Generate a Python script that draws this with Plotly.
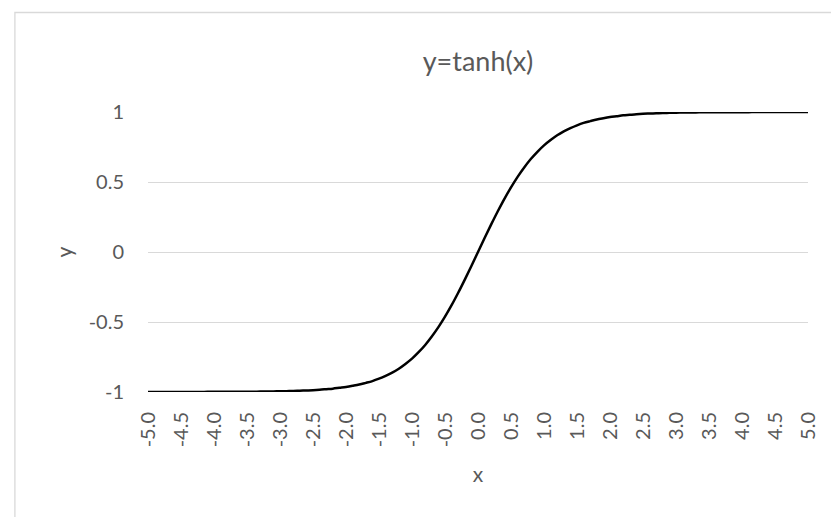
import plotly.graph_objects as go

x_values = [-5.0, -4.9, -4.8, -4.7, -4.6, -4.5, -4.4, -4.3, -4.2, -4.1,
            -4.0, -3.9, -3.8, -3.7, -3.6, -3.5, -3.4, -3.3, -3.2, -3.1,
            -3.0, -2.9, -2.8, -2.7, -2.6, -2.5, -2.4, -2.3, -2.2, -2.1,
            -2.0, -1.9, -1.8, -1.7, -1.6, -1.5, -1.4, -1.3, -1.2, -1.1,
            -1.0, -0.9, -0.8, -0.7, -0.6, -0.5, -0.4, -0.3, -0.2, -0.1,
            0.0, 0.1, 0.2, 0.3, 0.4, 0.5, 0.6, 0.7, 0.8, 0.9,
            1.0, 1.1, 1.2, 1.3, 1.4, 1.5, 1.6, 1.7, 1.8, 1.9,
            2.0, 2.1, 2.2, 2.3, 2.4, 2.5, 2.6, 2.7, 2.8, 2.9,
            3.0, 3.1, 3.2, 3.3, 3.4, 3.5, 3.6, 3.7, 3.8, 3.9,
            4.0, 4.1, 4.2, 4.3, 4.4, 4.5, 4.6, 4.7, 4.8, 4.9, 5.0]

y_values = [-1.000, -1.000, -1.000, -1.000, -1.000, -1.000, -1.000, -1.000, -1.000, -0.999,
            -0.999, -0.999, -0.999, -0.999, -0.999, -0.998, -0.998, -0.997, -0.997, -0.996,
            -0.995, -0.994, -0.993, -0.991, -0.989, -0.987, -0.984, -0.980, -0.976, -0.970,
            -0.964, -0.956, -0.947, -0.935, -0.922, -0.905, -0.885, -0.862, -0.834, -0.800,
            -0.762, -0.716, -0.664, -0.604, -0.537, -0.462, -0.380, -0.291, -0.197, -0.100,
            0.000, 0.100, 0.197, 0.291, 0.380, 0.462, 0.537, 0.604, 0.664, 0.716,
            0.762, 0.800, 0.834, 0.862, 0.885, 0.905, 0.922, 0.935, 0.947, 0.956,
            0.964, 0.970, 0.976, 0.980, 0.984, 0.987, 0.989, 0.991, 0.993, 0.994,
            0.995, 0.996, 0.997, 0.997, 0.998, 0.998, 0.999, 0.999, 0.999, 0.999,
            0.999, 0.999, 1.000, 1.000, 1.000, 1.000, 1.000, 1.000, 1.000, 1.000, 1.000]

x_tick_values = [-5.0, -4.5, -4.0, -3.5, -3.0, -2.5, -2.0, -1.5, -1.0, -0.5, 0.0,
                 0.5, 1.0, 1.5, 2.0, 2.5, 3.0, 3.5, 4.0, 4.5, 5.0]
x_tick_labels = ["-5.0", "-4.5", "-4.0", "-3.5", "-3.0", "-2.5", "-2.0", "-1.5", "-1.0", "-0.5", "0.0",
                 "0.5", "1.0", "1.5", "2.0", "2.5", "3.0", "3.5", "4.0", "4.5", "5.0"]
y_tick_values = [-1, -0.5, 0, 0.5, 1]
y_tick_labels = ["-1", "-0.5", "0", "0.5", "1"]

TEXT = "#595959"
GRID = "#d9d9d9"
FONT = "Lato, Open Sans, sans-serif"

fig = go.Figure()
fig.add_trace(go.Scatter(x=x_values, y=y_values, mode="lines",
                         line=dict(color="black", width=2.5, shape="spline"),
                         showlegend=False, hoverinfo="skip"))

fig.update_layout(
    width=831, height=517,
    margin=dict(l=148, r=16, t=112, b=125),
    paper_bgcolor="white", plot_bgcolor="white",
    font=dict(family=FONT, color=TEXT, size=20),
    title=dict(text="y=tanh(x)", x=0.5, xref="paper", xanchor="center",
               y=1 - 62 / 517, yanchor="middle",
               font=dict(family=FONT, size=27, color=TEXT)),
    xaxis=dict(range=[-5, 5], tickmode="array", tickvals=x_tick_values, ticktext=x_tick_labels,
               tickangle=-90, showgrid=False, zeroline=False, showline=False,
               ticks="", ticklabelstandoff=15, tickfont=dict(size=20, color=TEXT),
               title=dict(text="x", font=dict(size=21, color=TEXT), standoff=20)),
    yaxis=dict(range=[-1, 1], tickmode="array", tickvals=y_tick_values, ticktext=y_tick_labels,
               showgrid=True, gridcolor=GRID, gridwidth=1.3, zeroline=False, showline=False,
               ticks="", ticklabelstandoff=23, tickfont=dict(size=20, color=TEXT),
               title=dict(text="y", font=dict(size=21, color=TEXT), standoff=10)),
    shapes=[dict(type="rect", xref="paper", yref="paper",
                 x0=(13.5 - 148) / 667, x1=1.2,
                 y0=-0.6, y1=(392 - 12.5) / 280,
                 line=dict(color=GRID, width=1.3), fillcolor="rgba(0,0,0,0)", layer="below")],
)

fig.write_html("out.html")
